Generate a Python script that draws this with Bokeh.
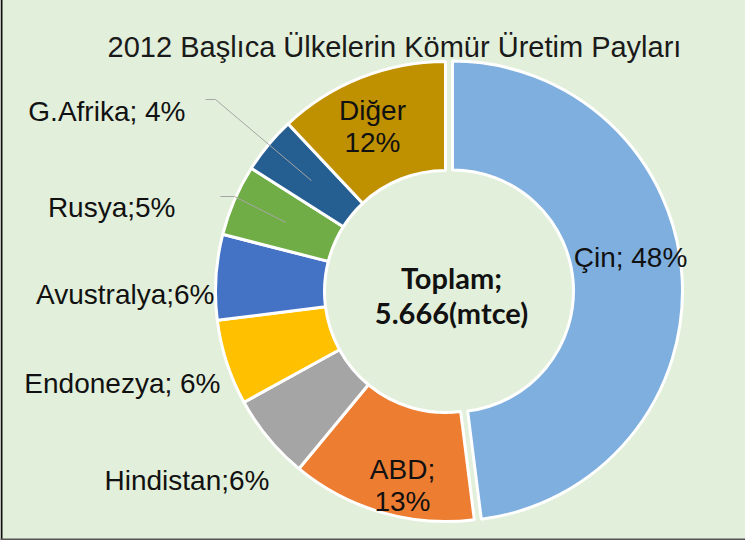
import numpy as np
from bokeh.plotting import figure
from bokeh.models import Range1d, Span
from bokeh.core.properties import value
from bokeh.embed import file_html
from bokeh.resources import INLINE

# ---------------- data ----------------
TITLE = "2012 Başlıca Ülkelerin Kömür Üretim Payları"
countries = ["Çin", "ABD", "Hindistan", "Endonezya", "Avustralya", "Rusya", "G.Afrika", "Diğer"]
shares = [48, 13, 6, 6, 6, 5, 4, 12]
label_lines = [["Çin; 48%"], ["ABD;", "13%"], ["Hindistan;6%"], ["Endonezya; 6%"],
               ["Avustralya;6%"], ["Rusya;5%"], ["G.Afrika; 4%"], ["Diğer", "12%"]]
center_lines = ["Toplam;", "5.666(mtce)"]
colors = ["#7EAFDF", "#ED7D31", "#A5A5A5", "#FFC000", "#4472C4", "#70AD47", "#255E91", "#BF9000"]

# ---------------- layout (page pixels) ----------------
W, H = 745, 548
X0 = 8
BG = "#E2EFDA"
CX, CY = 453, 299
R_OUT, R_IN = 230, 121
explode = [7, 0, 0, 0, 0, 0, 0, 0]
# label anchor: (x, baseline y of first line, align)
label_pos = [(638, 265, "center"), (410, 477, "center"), (277, 488, "right"), (228, 391, "right"),
             (222, 302, "right"), (183, 215, "right"), (193, 119, "right"), (380, 118, "center")]
LINE_H = 32
# leader line starts for labels drawn outside with a connector
leader_start = {6: [(213, 107), (223, 107)], 5: [(228, 204), (242, 204)]}
LEADER_R = 174


def Y(py):
    return -py


p = figure(width=W, height=H, output_backend="svg", toolbar_location=None,
           x_range=Range1d(X0, X0 + W), y_range=Range1d(-H, 0),
           min_border=0, background_fill_color=BG, border_fill_color=BG,
           outline_line_color=None, margin=(-8, 0, 0, 0))
p.axis.visible = False
p.grid.visible = False

vals = np.array(shares, dtype=float)
total = vals.sum()
ends = np.cumsum(vals)
starts = ends - vals
t1 = 2 * np.pi * starts / total  # clockwise from 12 o'clock
t2 = 2 * np.pi * ends / total
mid = (t1 + t2) / 2
ex = np.array(explode, dtype=float)
xs = CX + ex * np.sin(mid)
ys = Y(CY) + ex * np.cos(mid)

p.annular_wedge(x=xs, y=ys, inner_radius=R_IN, outer_radius=R_OUT,
                start_angle=np.pi / 2 - t2, end_angle=np.pi / 2 - t1,
                fill_color=colors, line_color="white", line_width=3)

# leader lines
lx, ly = [], []
for i, pts in leader_start.items():
    ex_pt = CX + LEADER_R * np.sin(mid[i])
    ey_pt = Y(CY) + LEADER_R * np.cos(mid[i])
    lx.append([q[0] for q in pts] + [ex_pt])
    ly.append([Y(q[1]) for q in pts] + [ey_pt])
p.multi_line(xs=lx, ys=ly, line_color="#A6A6A6", line_width=1)

# labels
for i, lines in enumerate(label_lines):
    x, by, al = label_pos[i]
    for k, t in enumerate(lines):
        p.text(x=[x], y=[Y(by + k * LINE_H)], text=[t], text_align=al,
               text_baseline="alphabetic", text_font=value("Liberation Sans"),
               text_font_size="28px", text_color="#111111")

# center text
for k, t in enumerate(center_lines):
    p.text(x=[CX + 6], y=[Y(285 + k * 35)], text=[t], text_align="center",
           text_baseline="alphabetic", text_font=value("Lato"), text_font_style="bold",
           text_font_size="29px", text_color="#111111")

# title
p.text(x=[402], y=[Y(54)], text=[TITLE], text_align="center", text_baseline="alphabetic",
       text_font=value("Liberation Sans"), text_font_size="29px", text_color="#1a1a1a")

# chart frame
p.add_layout(Span(location=X0 + 1, dimension="height", line_color="#111111", line_width=2))
p.add_layout(Span(location=Y(0.7), dimension="width", line_color="#7F7F7F", line_width=1.5))
p.add_layout(Span(location=Y(547), dimension="width", line_color="#555555", line_width=2))

open("out.html", "w").write(file_html(p, INLINE))
